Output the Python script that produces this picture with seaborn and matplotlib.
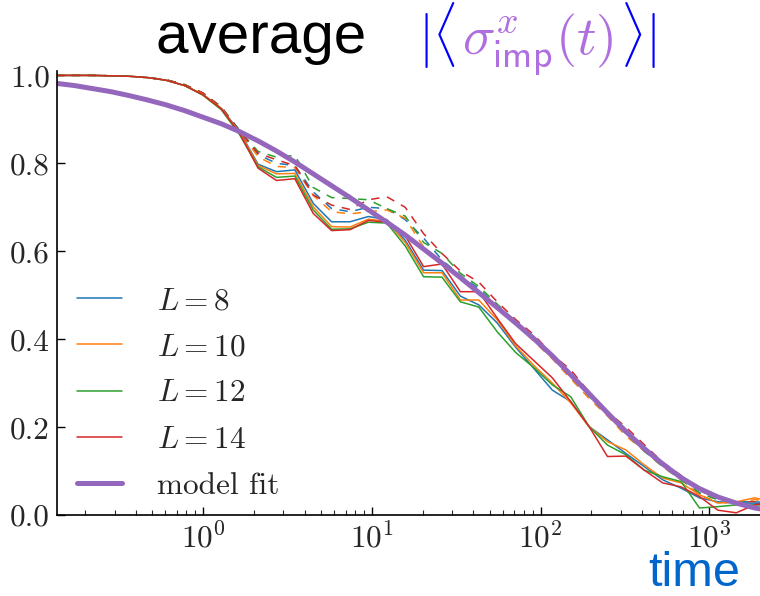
import matplotlib
matplotlib.use("Agg")
import matplotlib.pyplot as plt
from matplotlib.lines import Line2D
import seaborn as sns

# ---------------- data ----------------
t = [0.1344, 0.1728, 0.2220, 0.2853, 0.3666, 0.4711, 0.6054, 0.7782, 1.0, 1.285,
     1.652, 2.123, 2.728, 3.505, 4.505, 5.789, 7.439, 9.561, 12.29, 15.79,
     20.29, 26.08, 33.51, 43.07, 55.35, 71.12, 91.40, 117.5, 151.0, 194.0,
     249.3, 320.4, 411.8, 529.2, 680.0, 874.0, 1123.0, 1443.0, 1854.0, 2383.0]

solid_L8 = [1.0, 1.0, 1.0, 0.999, 0.998, 0.995, 0.989, 0.977, 0.957, 0.925,
            0.872, 0.798, 0.781, 0.785, 0.709, 0.667, 0.667, 0.679, 0.672, 0.625,
            0.557, 0.556, 0.498, 0.478, 0.437, 0.382, 0.333, 0.284, 0.258, 0.201,
            0.171, 0.140, 0.110, 0.080, 0.061, 0.039, 0.030, 0.027, 0.027, 0.025]
solid_L10 = [1.0, 1.0, 1.0, 0.999, 0.998, 0.995, 0.989, 0.977, 0.957, 0.925,
             0.870, 0.795, 0.776, 0.777, 0.701, 0.656, 0.655, 0.673, 0.668, 0.620,
             0.551, 0.551, 0.489, 0.489, 0.444, 0.385, 0.340, 0.300, 0.255, 0.201,
             0.167, 0.148, 0.114, 0.084, 0.073, 0.046, 0.027, 0.030, 0.039, 0.030]
solid_L12 = [1.0, 1.0, 1.0, 0.999, 0.998, 0.995, 0.989, 0.977, 0.955, 0.922,
             0.865, 0.792, 0.768, 0.771, 0.694, 0.650, 0.651, 0.666, 0.664, 0.612,
             0.542, 0.541, 0.485, 0.473, 0.417, 0.370, 0.335, 0.296, 0.269, 0.201,
             0.159, 0.137, 0.102, 0.087, 0.076, 0.016, 0.019, 0.023, 0.023, 0.022]
solid_L14 = [1.0, 1.0, 1.0, 0.999, 0.998, 0.995, 0.989, 0.977, 0.956, 0.924,
             0.868, 0.789, 0.761, 0.765, 0.686, 0.647, 0.649, 0.670, 0.666, 0.635,
             0.565, 0.571, 0.508, 0.508, 0.448, 0.390, 0.351, 0.312, 0.258, 0.201,
             0.133, 0.134, 0.102, 0.073, 0.064, 0.042, 0.011, 0.005, 0.023, 0.030]

dashed_L8 = [1.0, 1.0, 1.0, 0.999, 0.998, 0.995, 0.990, 0.979, 0.960, 0.928,
             0.875, 0.820, 0.800, 0.795, 0.735, 0.697, 0.690, 0.700, 0.697, 0.672,
             0.630, 0.580, 0.545, 0.515, 0.475, 0.440, 0.405, 0.360, 0.320, 0.275,
             0.230, 0.190, 0.150, 0.115, 0.085, 0.050, 0.035, 0.030, 0.030, 0.028]
dashed_L10 = [1.0, 1.0, 1.0, 0.999, 0.998, 0.995, 0.990, 0.979, 0.960, 0.928,
              0.872, 0.815, 0.793, 0.790, 0.727, 0.690, 0.685, 0.690, 0.694, 0.675,
              0.610, 0.575, 0.540, 0.510, 0.470, 0.435, 0.395, 0.355, 0.310, 0.265,
              0.225, 0.180, 0.145, 0.110, 0.080, 0.045, 0.030, 0.025, 0.035, 0.030]
dashed_L12 = [1.0, 1.0, 1.0, 0.999, 0.998, 0.995, 0.990, 0.979, 0.960, 0.928,
              0.874, 0.827, 0.814, 0.818, 0.745, 0.722, 0.720, 0.717, 0.697, 0.680,
              0.620, 0.595, 0.550, 0.520, 0.480, 0.440, 0.400, 0.360, 0.315, 0.270,
              0.228, 0.185, 0.145, 0.110, 0.080, 0.050, 0.035, 0.028, 0.025, 0.022]
dashed_L14 = [1.0, 1.0, 1.0, 0.999, 0.998, 0.995, 0.990, 0.979, 0.960, 0.928,
              0.873, 0.823, 0.808, 0.795, 0.728, 0.705, 0.695, 0.717, 0.724, 0.700,
              0.640, 0.595, 0.555, 0.530, 0.485, 0.445, 0.410, 0.365, 0.330, 0.280,
              0.235, 0.200, 0.160, 0.120, 0.090, 0.055, 0.040, 0.030, 0.030, 0.028]

model_fit = [0.982, 0.977, 0.970, 0.963, 0.954, 0.944, 0.933, 0.920, 0.905, 0.890,
             0.872, 0.851, 0.828, 0.803, 0.776, 0.749, 0.722, 0.694, 0.666, 0.637,
             0.605, 0.573, 0.540, 0.506, 0.472, 0.437, 0.401, 0.362, 0.319, 0.276,
             0.232, 0.190, 0.151, 0.116, 0.085, 0.060, 0.041, 0.027, 0.016, 0.009]

labels = [r"$L=8$", r"$L=10$", r"$L=12$", r"$L=14$"]
colors = ["#1f77b4", "#ff7f0e", "#2ca02c", "#d62728"]
solids = [solid_L8, solid_L10, solid_L12, solid_L14]
dashes = [dashed_L8, dashed_L10, dashed_L12, dashed_L14]
y_ticks = [0.0, 0.2, 0.4, 0.6, 0.8, 1.0]

# ---------------- style ----------------
sns.set_style("ticks")
plt.rcParams.update({
    "font.family": "serif",
    "font.serif": ["cmr10"],
    "mathtext.fontset": "cm",
    "axes.formatter.use_mathtext": True,
    "axes.unicode_minus": False,
    "xtick.direction": "in",
    "ytick.direction": "in",
})

W, H = 760, 596
fig = plt.figure(figsize=(W / 100, H / 100), dpi=100)
ax = fig.add_axes([57 / W, (H - 515) / H, (W - 57) / W, (515 - 71) / H])

for vals, c in zip(dashes, colors):
    sns.lineplot(x=t, y=vals, color=c, lw=1.1, ax=ax, linestyle=(0, (5.5, 5)),
                 legend=False)
for vals, c in zip(solids, colors):
    sns.lineplot(x=t, y=vals, color=c, lw=1.1, ax=ax, legend=False)
sns.lineplot(x=t, y=model_fit, color="#9467bd", lw=3.6, ax=ax, legend=False)

ax.set_xscale("log")
ax.set_xlim(0.1368, 1995)
ax.set_ylim(0.0, 1.01)
ax.set_yticks(y_ticks)
ax.set_yticklabels([f"{v:.1f}" for v in y_ticks])
ax.set_xlabel("")
ax.set_ylabel("")
for s in ["top", "right"]:
    ax.spines[s].set_visible(False)
for s in ["left", "bottom"]:
    ax.spines[s].set_linewidth(1.2)
    ax.spines[s].set_color("black")
ax.tick_params(axis="both", which="major", labelsize=22.5, length=6, width=1,
               color="black", pad=5)
ax.tick_params(axis="x", which="minor", length=3.5, width=0.8)

handles = [Line2D([], [], color=c, lw=1.1) for c in colors]
handles.append(Line2D([], [], color="#9467bd", lw=3.6))
leg = ax.legend(handles, labels + ["model fit"], loc="lower left",
                bbox_to_anchor=(49 / W, 1 - 528 / H),
                bbox_transform=fig.transFigure, frameon=False, fontsize=22.5,
                handlelength=1.44, handletextpad=1.12, labelspacing=0.585)

# ---------------- title pieces ----------------
fig.text(155 / W, 1 - 53 / H, "average", fontsize=42,
         family="Liberation Sans", color="black", va="baseline", ha="left")

fig.canvas.draw()
renderer = fig.canvas.get_renderer()
pieces = [(r"$|\langle$", "#0000ff"),
          (r"$\sigma^{x}_{\mathsf{imp}}(t)$", "#b06fe0"),
          (r"$\rangle|$", "#0000ff")]
x_px = 418
for txt, col in pieces:
    tt = fig.text(x_px / W, 1 - 55 / H, txt, fontsize=39, color=col,
                  va="baseline", ha="left")
    bb = tt.get_window_extent(renderer)
    x_px = bb.x1 + 6

fig.text(740 / W, 1 - 586 / H, "time", fontsize=35, family="Liberation Sans",
         color="#0066cc", va="baseline", ha="right")

fig.savefig("out.png", dpi=100)
